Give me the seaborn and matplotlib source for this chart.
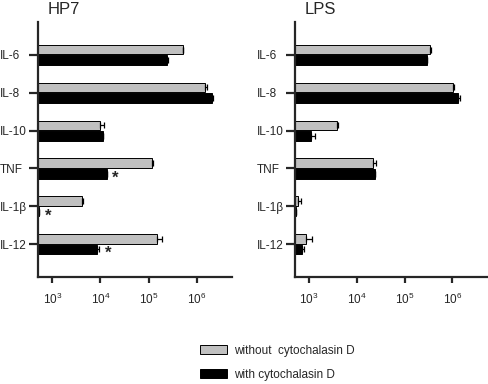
import numpy as np
import pandas as pd
import seaborn as sns
import matplotlib.pyplot as plt
from matplotlib.ticker import NullLocator

# data
cytokines = ["IL-6", "IL-8", "IL-10", "TNF", "IL-1β", "IL-12"]
conditions = ["without  cytochalasin D", "with cytochalasin D"]

hp7_without = [5.1e5, 1.5e6, 1.0e4, 1.19e5, 4.1e3, 1.47e5]
hp7_with = [2.4e5, 2.1e6, 1.13e4, 1.35e4, 530, 8.3e3]
hp7_err_without = [2.0e4, 1.6e5, 1.9e3, 5.0e3, 2.0e2, 4.0e4]
hp7_err_with = [1.5e4, 1.0e5, 0, 0, 0, 1.0e3]

lps_without = [3.4e5, 1.02e6, 3.8e3, 2.2e4, 580, 880]
lps_with = [3.0e5, 1.3e6, 1.12e3, 2.4e4, 545, 700]
lps_err_without = [1.5e4, 5.0e4, 2.0e2, 3.0e3, 110, 290]
lps_err_with = [0, 1.7e5, 1.9e2, 0, 0, 90]

hp7_stars = ["TNF", "IL-1β", "IL-12"]

sns.set_style("white")
plt.rcParams["font.family"] = ["Liberation Sans", "DejaVu Sans"]
plt.rcParams["mathtext.default"] = "regular"


def long_table(without, with_):
    return pd.DataFrame({
        "cytokine": cytokines * 2,
        "condition": [conditions[0]] * 6 + [conditions[1]] * 6,
        "value": without + with_,
    })


fig = plt.figure(figsize=(4.88, 3.84), dpi=100)
ax1 = fig.add_axes([0.0779, 0.2786, 0.3969, 0.665])
ax2 = fig.add_axes([0.6039, 0.2786, 0.3947, 0.665])

panels = [
    (ax1, long_table(hp7_without, hp7_with), hp7_err_without + hp7_err_with, True),
    (ax2, long_table(lps_without, lps_with), lps_err_without + lps_err_with, False),
]

for ax, df, errs, show_leg in panels:
    sns.barplot(data=df, y="cytokine", x="value", hue="condition", orient="h",
                palette=["#c0c0c0", "black"], width=0.56, gap=0.1,
                edgecolor="black", linewidth=0.7, errorbar=None,
                legend=show_leg, ax=ax)
    ax.set_xscale("log")
    ax.set_xlim(10 ** 2.7, 10 ** 6.73)
    ax.set_ylim(5.87, -0.88)

    # one sided error bars at the bar ends
    bars = [p for p in ax.patches if p.get_height() < 1][:12]
    xs = np.array([p.get_width() for p in bars])
    ys = np.array([p.get_y() + p.get_height() / 2 for p in bars])
    ax.errorbar(xs, ys, xerr=[np.zeros(len(xs)), np.array(errs)], fmt="none",
                ecolor="black", elinewidth=0.9, capsize=2.5, capthick=0.9)

    ax.set_xticks([1e3, 1e4, 1e5, 1e6])
    ax.xaxis.set_minor_locator(NullLocator())
    ax.set_xlabel("")
    ax.set_ylabel("")
    sns.despine(ax=ax)
    for s in ["left", "bottom"]:
        ax.spines[s].set_linewidth(1.6)
    ax.tick_params(axis="x", length=4.3, width=1.6, labelsize=8.5, pad=6.5, bottom=True)
    # labels are left aligned at a fixed distance from the axis
    ax.tick_params(axis="y", length=6.3, width=1.6, labelsize=8.5, pad=21.1, left=True)
    for lab in ax.get_yticklabels():
        lab.set_horizontalalignment("left")

# significance marks on HP7 black bars
black_bars = [p for p in ax1.patches if p.get_height() < 1][6:12]
for cyt, p in zip(cytokines, black_bars):
    if cyt in hp7_stars:
        i = cytokines.index(cyt)
        x_end = max(p.get_width() + hp7_err_with[i], 10 ** 2.7)
        ax1.text(x_end * 1.3, p.get_y() + p.get_height() * 0.95, "*",
                 fontsize=12, fontweight="bold", ha="left", va="center")

handles, labels = ax1.get_legend_handles_labels()
ax1.get_legend().remove()
fig.legend(handles, labels, loc="upper left", bbox_to_anchor=(0.410, 0.102),
           frameon=False, fontsize=8.5, handlelength=2.3, handleheight=0.85,
           handletextpad=0.6, labelspacing=1.0, borderpad=0, borderaxespad=0)

fig.text(64 / 488, 1 - 9 / 384, "HP7", ha="center", va="center", fontsize=12)
fig.text(320 / 488, 1 - 9 / 384, "LPS", ha="center", va="center", fontsize=12)

fig.savefig("out.png", dpi=100)
